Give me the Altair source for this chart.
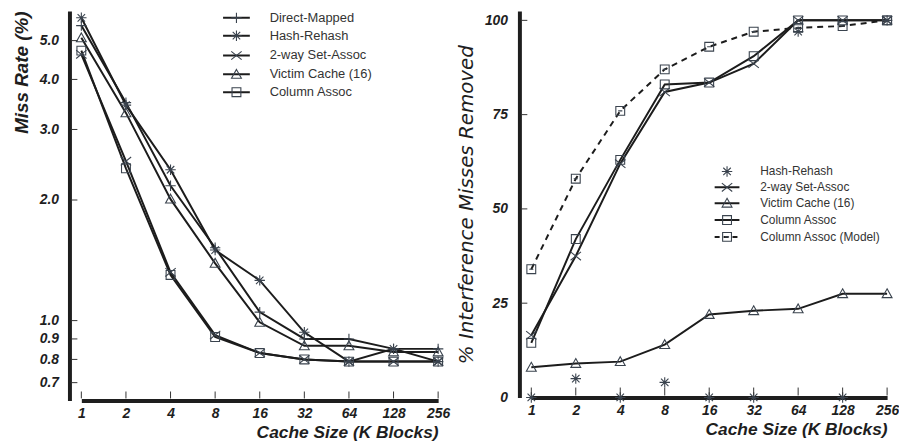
import altair as alt
import pandas as pd

sizes = ["1", "2", "4", "8", "16", "32", "64", "128", "256"]

# ---- Left panel: miss rate (%) ----
left_series = ["Direct-Mapped", "Hash-Rehash", "2-way Set-Assoc", "Victim Cache (16)", "Column Assoc"]
mr_direct = [5.45, 3.50, 2.17, 1.52, 1.05, 0.90, 0.90, 0.85, 0.85]
mr_hash = [5.70, 3.45, 2.38, 1.50, 1.26, 0.935, 0.79, 0.85, 0.79]
mr_2way = [4.62, 2.50, 1.32, 0.92, 0.83, 0.80, 0.79, 0.79, 0.79]
mr_victim = [5.08, 3.30, 2.01, 1.39, 0.99, 0.865, 0.865, 0.835, 0.835]
mr_column = [4.72, 2.40, 1.30, 0.91, 0.83, 0.80, 0.79, 0.79, 0.79]
left_yticks = [0.7, 0.8, 0.9, 1.0, 2.0, 3.0, 4.0, 5.0]

# ---- Right panel: % interference misses removed ----
right_series = ["Hash-Rehash", "2-way Set-Assoc", "Victim Cache (16)", "Column Assoc", "Column Assoc (Model)"]
rm_hash = [0, 5, 0, 4, 0, 0, 97, 0, 100]
rm_2way = [16.5, 37.5, 62, 81, 83.5, 88.5, 100, 100, 100]
rm_victim = [8, 9, 9.5, 14, 22, 23, 23.5, 27.5, 27.5]
rm_column = [14.5, 42, 63, 83, 83.5, 90.5, 100, 100, 100]
rm_model = [34, 58, 76, 87, 93, 97, 98, 98.5, 100]
right_yticks = [0, 25, 50, 75, 100]

all_series = ["Direct-Mapped", "Hash-Rehash", "2-way Set-Assoc", "Victim Cache (16)",
              "Column Assoc", "Column Assoc (Model)"]

SQ = "M-0.85,-0.85L0.85,-0.85L0.85,0.85L-0.85,0.85Z"
SHAPES = {
    "Direct-Mapped": "M-1,0L1,0M0,-1L0,1",
    "Hash-Rehash": "M-1,0L1,0M0,-1L0,1M-0.72,-0.72L0.72,0.72M-0.72,0.72L0.72,-0.72",
    "2-way Set-Assoc": "M-1,-0.8L1,0.8M-1,0.8L1,-0.8",
    "Victim Cache (16)": "M0,-0.95L0.95,0.75L-0.95,0.75Z",
    "Column Assoc": SQ,
    "Column Assoc (Model)": SQ + "M-0.4,0L0.4,0",
}
shape_scale = alt.Scale(domain=all_series, range=[SHAPES[s] for s in all_series])

LINE = "#1c1c1c"
MARK = "#3a434e"
FONT = "Liberation Sans"


def long_df(names, arrays):
    rows = []
    for name, vals in zip(names, arrays):
        for s, v in zip(sizes, vals):
            rows.append({"size": s, "series": name, "value": v})
    return pd.DataFrame(rows)


left_df = long_df(left_series, [mr_direct, mr_hash, mr_2way, mr_victim, mr_column])
right_df = long_df(right_series, [rm_hash, rm_2way, rm_victim, rm_column, rm_model])


def legend_layers(entries, x0, x1, xt, ys, fsize):
    layers = []
    for (name, has_line, dashed), yy in zip(entries, ys):
        if has_line:
            layers.append(
                alt.Chart(pd.DataFrame({"a": [0]})).mark_rule(
                    color=LINE, strokeWidth=2, strokeDash=[5, 4] if dashed else [1, 0]
                ).encode(x=alt.value(x0), x2=alt.value(x1), y=alt.value(yy))
            )
        layers.append(
            alt.Chart(pd.DataFrame({"a": [0]})).mark_point(
                shape=SHAPES[name], filled=False, color=MARK, strokeWidth=1.1,
                size=110, opacity=1
            ).encode(x=alt.value((x0 + x1) / 2), y=alt.value(yy))
        )
        layers.append(
            alt.Chart(pd.DataFrame({"t": [name]})).mark_text(
                align="left", baseline="middle", font=FONT, fontSize=fsize, color="#333"
            ).encode(x=alt.value(xt), y=alt.value(yy), text="t:N")
        )
    return layers


# ---------------- Left chart ----------------
W1, H1 = 382, 393
xL = alt.X("size:O", sort=sizes,
           scale=alt.Scale(type="point", range=[12, 372], padding=0),
           axis=alt.Axis(title="Cache Size (K Blocks)", labelAngle=0))
yL = alt.Y("value:Q",
           scale=alt.Scale(type="log", domain=[0.632, 5.93], nice=False),
           axis=alt.Axis(values=left_yticks, format=".1f", title="Miss Rate (%)",
                         titleAnchor="end", titleFontSize=19))

l_lines = alt.Chart(left_df).mark_line(color=LINE, strokeWidth=2).encode(
    x=xL, y=yL, detail="series:N")
l_points = alt.Chart(left_df).mark_point(
    filled=False, color=MARK, strokeWidth=1.1, size=110, opacity=1).encode(
    x=xL, y=yL, shape=alt.Shape("series:N", scale=shape_scale, legend=None))
l_xt = alt.Chart(pd.DataFrame({"size": sizes})).mark_rule(color="#333", strokeWidth=1).encode(
    x=xL, y=alt.value(H1 - 9), y2=alt.value(H1 - 2))
l_yt = alt.Chart(pd.DataFrame({"value": left_yticks})).mark_rule(color="#333", strokeWidth=1).encode(
    y=yL, x=alt.value(2), x2=alt.value(8))
l_leg = legend_layers([(s, True, False) for s in left_series], 155, 182, 202,
                      [7, 25, 45, 64, 82], 13)

left = alt.layer(l_lines, l_points, l_xt, l_yt, *l_leg).properties(width=W1, height=H1)

# ---------------- Right chart ----------------
W2, H2 = 376, 390
xR = alt.X("size:O", sort=sizes,
           scale=alt.Scale(type="point", range=[12, 371], padding=0),
           axis=alt.Axis(title="Cache Size (K Blocks)", labelAngle=0))
yR = alt.Y("value:Q",
           scale=alt.Scale(domain=[0, 102.5], nice=False),
           axis=alt.Axis(values=right_yticks, format="d",
                         title="% Interference Misses Removed",
                         titleFont="DejaVu Sans", titleFontSize=20,
                         titleFontWeight="normal", titleAnchor="middle",
                         labelPadding=12, titlePadding=8))

solid_names = ["2-way Set-Assoc", "Victim Cache (16)", "Column Assoc"]
r_lines = alt.Chart(right_df[right_df["series"].isin(solid_names)]).mark_line(
    color=LINE, strokeWidth=2).encode(x=xR, y=yR, detail="series:N")
r_dash = alt.Chart(right_df[right_df["series"] == "Column Assoc (Model)"]).mark_line(
    color=LINE, strokeWidth=2, strokeDash=[6, 5]).encode(x=xR, y=yR)
r_points = alt.Chart(right_df).mark_point(
    filled=False, color=MARK, strokeWidth=1.1, size=110, opacity=1).encode(
    x=xR, y=yR, shape=alt.Shape("series:N", scale=shape_scale, legend=None))
r_xt = alt.Chart(pd.DataFrame({"size": sizes})).mark_rule(color="#333", strokeWidth=1).encode(
    x=xR, y=alt.value(H2 - 10), y2=alt.value(H2 - 2))
r_yt = alt.Chart(pd.DataFrame({"value": right_yticks[1:]})).mark_rule(color="#333", strokeWidth=1).encode(
    y=yR, x=alt.value(2), x2=alt.value(8))
r_entries = [("Hash-Rehash", False, False), ("2-way Set-Assoc", True, False),
             ("Victim Cache (16)", True, False), ("Column Assoc", True, False),
             ("Column Assoc (Model)", True, True)]
r_leg = legend_layers(r_entries, 197, 222, 243, [162, 178, 194, 211, 228], 12)

right = alt.layer(r_lines, r_dash, r_points, r_xt, r_yt, *r_leg).properties(width=W2, height=H2)

chart = alt.hconcat(left, right, spacing=6).properties(
    padding={"left": 4, "top": 0, "right": 0, "bottom": 0}
).configure_view(stroke=None).configure_axis(
    domainWidth=4, domainColor="#1e1e1e", ticks=False, grid=False,
    labelFont=FONT, labelFontSize=14, labelFontWeight="bold", labelFontStyle="italic",
    labelColor="#1e1e1e", titleFont=FONT, titleFontSize=17.5, titleFontWeight="bold",
    titleFontStyle="italic", titleColor="#1e1e1e", zindex=1
).configure_axisX(labelPadding=6, titlePadding=3, titleAnchor="end").configure_axisY(
    labelPadding=11, titlePadding=8)

chart.save("out.html", embed_options={"renderer": "svg", "actions": False})
